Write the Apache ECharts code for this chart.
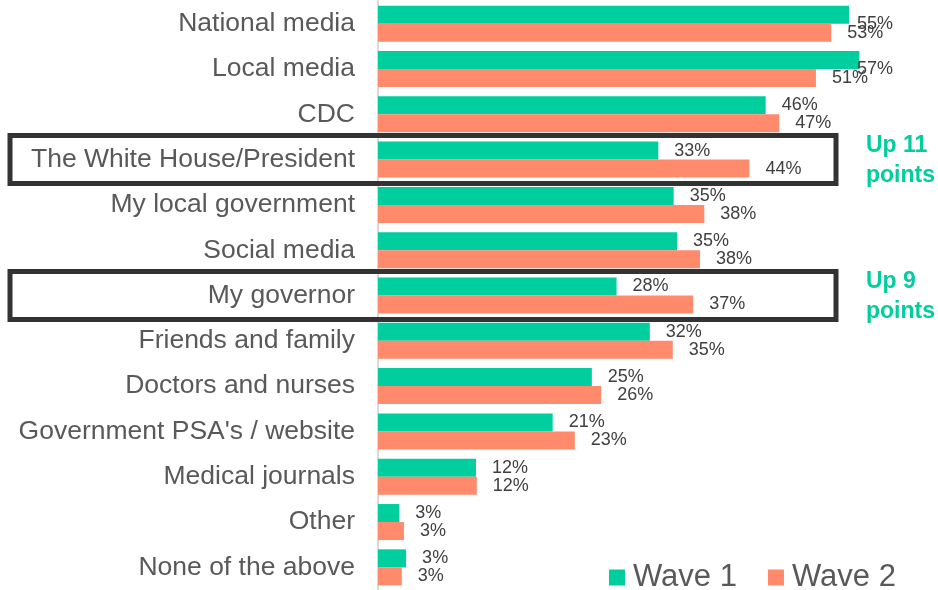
<!DOCTYPE html>
<html>
<head>
<meta charset="utf-8">
<script src="https://cdn.jsdelivr.net/npm/echarts@6/dist/echarts.min.js"></script>
<style>
html,body{margin:0;padding:0;background:#fff;}
#c{width:938px;height:590px;}
</style>
</head>
<body>
<div id="c"></div>
<script>
var categories = ["National media","Local media","CDC","The White House/President","My local government","Social media","My governor","Friends and family","Doctors and nurses","Government PSA's / website","Medical journals","Other","None of the above"];
var wave1 = [55.3,56.5,45.5,32.9,34.7,35.1,28.0,31.9,25.1,20.5,11.5,2.5,3.3];
var wave2 = [53.2,51.4,47.1,43.6,38.3,37.8,37.0,34.6,26.2,23.1,11.6,3.05,2.8];
var seriesNames = ["Wave 1","Wave 2"];
var highlighted = ["The White House/President","My governor"];
var highlightNotes = ["Up 11\npoints","Up 9\npoints"];

var GREEN = '#00CE9E', SALMON = '#FF8A6C';
var chart = echarts.init(document.getElementById('c'));
var PX_PER = 8.52;
var labelRight = 893;
function lbl(){
  return {show:true, position:'right', distance:16, color:'#404040', fontSize:18,
    fontFamily:'Liberation Sans, Arial, sans-serif',
    formatter:function(p){return Math.round(p.value)+'%';}};
}
chart.setOption({
  animation:false,
  textStyle:{fontFamily:'Liberation Sans, Arial, sans-serif'},
  grid:{left:378, top:1, width:60*PX_PER, height:591.5, containLabel:false},
  legend:{left:609, top:562, padding:0, itemWidth:16, itemHeight:16, itemGap:31, icon:'rect',
    textStyle:{fontSize:31, color:'#595959', padding:[0,0,0,3], fontFamily:'Liberation Sans, Arial, sans-serif'},
    data:seriesNames},
  xAxis:{type:'value', min:0, max:60, show:false},
  yAxis:{type:'category', data:categories, inverse:true,
    axisLine:{show:true, lineStyle:{color:'#d9d9d9', width:2}},
    axisTick:{show:false},
    axisLabel:{fontSize:26.5, color:'#595959', margin:23}},
  labelLayout:function(p){
    var r = p.labelRect;
    if (r.x + r.width > labelRight) return {x: labelRight - r.width};
    return {};
  },
  series:[
    {name:seriesNames[0], type:'bar', data:wave1, barWidth:18, barGap:'0%', itemStyle:{color:GREEN}, label:lbl()},
    {name:seriesNames[1], type:'bar', data:wave2, barWidth:18, barGap:'0%', itemStyle:{color:SALMON}, label:lbl()}
  ]
});

var graphics = [];
highlighted.forEach(function(cat, i){
  var cy = chart.convertToPixel({yAxisIndex:0}, cat);
  graphics.push({type:'rect', shape:{x:10, y:cy-24, width:826, height:48},
    style:{fill:'none', stroke:'#333333', lineWidth:5}, z:10});
  graphics.push({type:'text', x:866, y:cy+1,
    style:{text:highlightNotes[i], fill:'#00CE9E', font:'bold 23px "Liberation Sans", Arial, sans-serif',
      lineHeight:30, verticalAlign:'middle', align:'left'}, z:10});
});
chart.setOption({graphic:graphics});
</script>
</body>
</html>
